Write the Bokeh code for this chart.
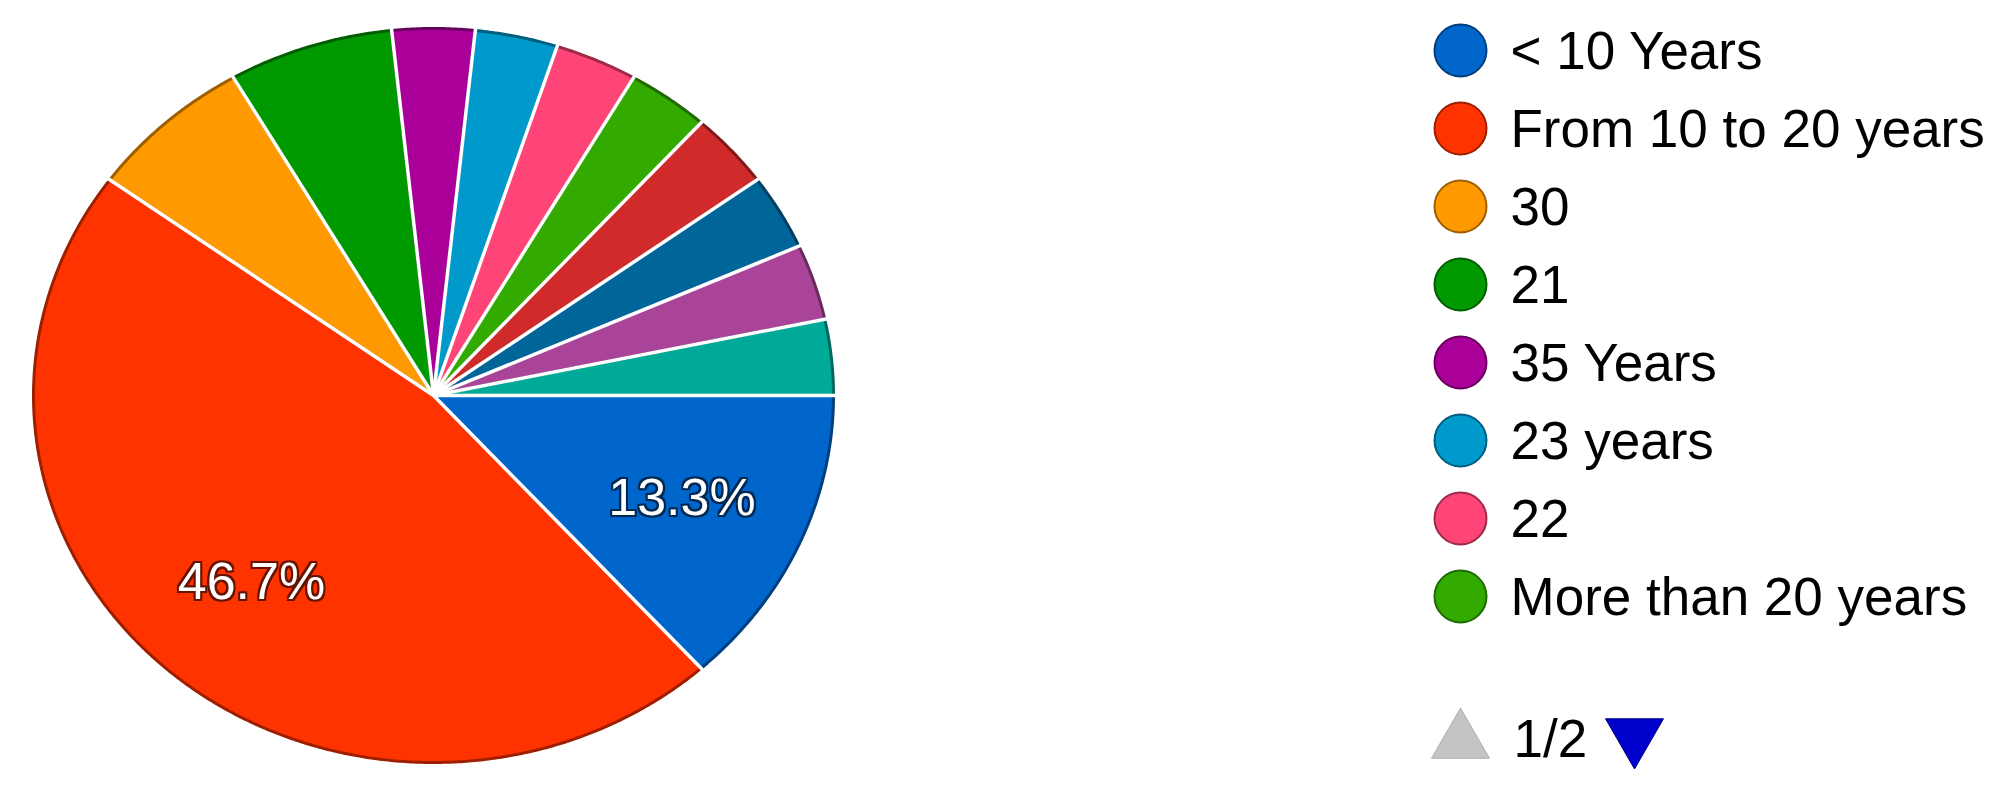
import numpy as np
from bokeh.plotting import figure
from bokeh.models import Range1d
from bokeh.core.properties import value
from bokeh.embed import file_html
from bokeh.resources import INLINE

# ---------------- data ----------------
categories = ["< 10 Years", "From 10 to 20 years", "30", "21", "35 Years",
              "23 years", "22", "More than 20 years",
              "Item 9", "Item 10", "Item 11", "Item 12"]   # last four are on legend page 2
counts = [4, 14, 2, 2, 1, 1, 1, 1, 1, 1, 1, 1]
colors = ["#0066CC", "#FF3300", "#FF9900", "#009900", "#AA0099", "#0099CC",
          "#FF4477", "#33AA00", "#D02A2A", "#006699", "#AA4499", "#00AA99"]
legend_items_shown = 8
page_label = "1/2"

# ---------------- layout ----------------
W, H = 1994, 773
FONT = value("Liberation Sans")


def darker(h, f=0.62):
    h = h.lstrip("#")
    r, g, b = (int(h[i:i + 2], 16) for i in (0, 2, 4))
    return "#%02x%02x%02x" % (int(r * f), int(g * f), int(b * f))


p = figure(width=W, height=H, x_range=Range1d(0, W), y_range=Range1d(H, 0),
           output_backend="svg", toolbar_location=None, min_border=0,
           x_axis_type=None, y_axis_type=None)
p.grid.visible = False
p.outline_line_color = None
p.background_fill_color = "white"
p.border_fill_color = "white"

cx, cy, rx, ry = 433, 395, 400, 367
vals = np.array(counts, dtype=float)
frac = vals / vals.sum()
ends = np.cumsum(frac) * 2 * np.pi
starts = ends - frac * 2 * np.pi
mids = (starts + ends) / 2

xs, ys = [], []
for a0, a1 in zip(starts, ends):
    t = np.linspace(a0, a1, max(10, int((a1 - a0) / (2 * np.pi) * 900)))
    xs.append([cx] + (cx + rx * np.cos(t)).tolist())
    ys.append([cy] + (cy + ry * np.sin(t)).tolist())

dark = [darker(c) for c in colors]
p.patches(xs, ys, fill_color=colors, line_color=dark, line_width=3)
# white separators between slices
p.segment(x0=[cx] * len(starts), y0=[cy] * len(starts),
          x1=(cx + rx * 1.02 * np.cos(starts)).tolist(),
          y1=(cy + ry * 1.02 * np.sin(starts)).tolist(),
          line_color="white", line_width=3.5)

# percentage labels on large slices
lab = [i for i in range(len(frac)) if frac[i] > 0.1]
lx = [cx + 0.68 * rx * np.cos(mids[i]) for i in lab]
ly = [cy + 0.68 * ry * np.sin(mids[i]) for i in lab]
lt = ["%.1f%%" % (frac[i] * 100) for i in lab]
ldark = [darker(colors[i], 0.4) for i in lab]
for dx, dy in [(-2, 0), (2, 0), (0, -2), (0, 2), (-2, -2), (2, 2), (-2, 2), (2, -2)]:
    p.text(x=lx, y=ly, text=lt, x_offset=dx, y_offset=dy, text_color=ldark,
           text_font=FONT, text_font_size="52px", text_align="center",
           text_baseline="middle")
p.text(x=lx, y=ly, text=lt, text_color="white", text_font=FONT,
       text_font_size="52px", text_align="center", text_baseline="middle")

# legend (page 1)
n = legend_items_shown
leg_y = [50 + 78 * i for i in range(n)]
p.scatter(x=[1460] * n, y=leg_y, size=52, marker="circle",
          fill_color=colors[:n], line_color=dark[:n], line_width=2)
p.text(x=[1510] * n, y=leg_y, text=categories[:n], text_color="#000000",
       text_font=FONT, text_font_size="53px", text_baseline="middle")

# pager
p.scatter(x=[1460], y=[741], size=58, marker="triangle",
          fill_color="#C4C4C4", line_color="#B0B0B0", line_width=1)
p.text(x=[1513], y=[738], text=[page_label], text_color="#000000",
       text_font=FONT, text_font_size="53px", text_baseline="middle")
p.scatter(x=[1634], y=[735], size=58, marker="inverted_triangle",
          fill_color="#0000CC", line_color="#000088", line_width=1)

open("out.html", "w").write(file_html(p, INLINE))
